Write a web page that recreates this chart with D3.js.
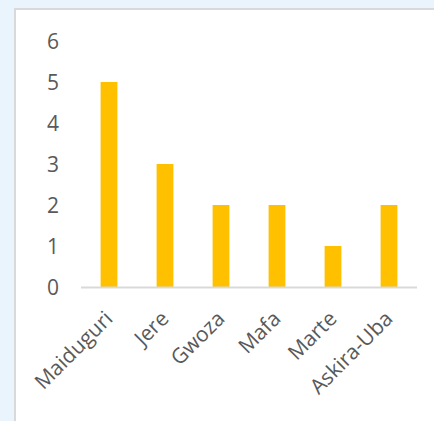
<!DOCTYPE html>
<html>
<head>
<meta charset="utf-8">
<script src="https://cdn.jsdelivr.net/npm/d3@7"></script>
<style>
  html, body { margin: 0; padding: 0; background: #eaf4fd; }
  svg { display: block; }
</style>
</head>
<body>
<svg id="chart" width="434" height="421"></svg>
<script>
// Districts and counts
const categories = ["Maiduguri", "Jere", "Gwoza", "Mafa", "Marte", "Askira-Uba"];
const values = [5, 3, 2, 2, 1, 2];
const yTicks = [0, 1, 2, 3, 4, 5, 6];

const svg = d3.select("#chart");
const W = 434, H = 421;

// white chart panel with grey frame
svg.append("rect").attr("x", 14).attr("y", 8).attr("width", W).attr("height", H)
  .attr("fill", "#d9d9d9");
svg.append("rect").attr("x", 16).attr("y", 10).attr("width", W).attr("height", H)
  .attr("fill", "#ffffff");

const x = d3.scaleBand().domain(categories).range([81, 417]).paddingInner(0.7).paddingOuter(0.35);
const y = d3.scaleLinear().domain([0, 6]).range([287, 41]);

const font = "'Open Sans', sans-serif";

// y axis labels (no line)
const yAxis = svg.append("g").attr("transform", "translate(59,0)")
  .call(d3.axisLeft(y).tickValues(yTicks).tickFormat(d3.format("d")).tickSize(0).tickPadding(0));
yAxis.select(".domain").remove();
yAxis.selectAll("text").attr("font-family", font).attr("font-size", 21)
  .attr("fill", "#595959").attr("dy", "0.35em");

// bars
svg.append("g").selectAll("rect").data(categories).join("rect")
  .attr("x", d => x(d))
  .attr("width", x.bandwidth())
  .attr("y", (d, i) => y(values[i]))
  .attr("height", (d, i) => y(0) - y(values[i]))
  .attr("fill", "#ffc000");

// x axis
const xAxis = svg.append("g").attr("transform", `translate(0,${y(0)})`)
  .call(d3.axisBottom(x).tickSize(0).tickPadding(0));
xAxis.select(".domain").attr("stroke", "#d9d9d9").attr("stroke-width", 2)
  .attr("d", "M81,0.5H417");
xAxis.selectAll("text")
  .attr("font-family", font).attr("font-size", 21).attr("fill", "#595959")
  .attr("text-anchor", "end")
  .attr("dy", null).attr("y", 0)
  .attr("transform", "translate(5,33) rotate(-45)");
</script>
</body>
</html>
